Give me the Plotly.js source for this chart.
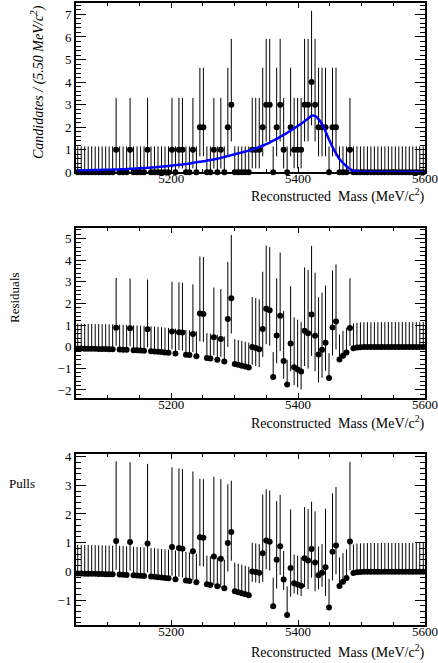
<!DOCTYPE html>
<html><head><meta charset="utf-8">
<script src="https://cdn.plot.ly/plotly-3.0.1.min.js"></script>
<style>html,body{margin:0;padding:0;background:#fff;} #chart{width:438px;height:663px;}</style>
</head><body><div id="chart"></div>
<script>
// Histogram binning (100 bins of 5.5 MeV from 5050 to 5600)
const binLow = 5050;
const binWidth = 5.5;
// Candidates per bin
const counts = [
  0,0,0,0,0,0,0,0,0,0,
  0,1,0,0,0,1,0,0,0,0,
  1,0,0,0,0,0,0,1,0,1,
  1,0,0,1,0,2,2,0,0,1,
  0,1,0,2,3,0,0,0,0,0,
  1,1,1,2,3,3,0,2,3,1,
  0,2,1,1,1,3,3,4,3,2,
  2,2,0,2,2,0,0,0,1,0,
  0,0,0,0,0,0,0,0,0,0,
  0,0,0,0,0,0,0,0,0,0
];
// Fitted model value at each bin centre (blue curve)
const model = [
  0.085,0.088,0.091,0.094,0.097,0.100,0.104,0.108,0.112,0.116,
  0.120,0.125,0.130,0.137,0.144,0.152,0.160,0.170,0.180,0.190,
  0.200,0.210,0.220,0.235,0.250,0.265,0.280,0.300,0.315,0.330,
  0.350,0.370,0.390,0.420,0.440,0.470,0.490,0.520,0.550,0.570,
  0.600,0.640,0.680,0.720,0.760,0.800,0.840,0.880,0.920,0.960,
  1.010,1.060,1.120,1.180,1.250,1.320,1.400,1.480,1.570,1.660,
  1.750,1.850,1.950,2.050,2.150,2.260,2.380,2.510,2.500,2.360,
  2.140,1.820,1.450,1.120,0.840,0.590,0.420,0.270,0.140,0.070,
  0.040,0.025,0.020,0.018,0.016,0.015,0.015,0.014,0.014,0.013,
  0.013,0.013,0.012,0.012,0.012,0.012,0.011,0.011,0.011,0.011
];
// Poisson (68%) asymmetric errors for n = 0..4
const poissonLo = [0, 0.8274, 1.2911, 1.6330, 1.9145];
const poissonHi = [1.1479, 2.2996, 2.6379, 2.9182, 3.1623];
const xTickVals = [5200, 5400, 5600];
const xTickText = ['5200', '5400', '5600'];

const xs = counts.map((_, i) => binLow + binWidth * (i + 0.5));
const eLo = counts.map(n => poissonLo[n]);
const eHi = counts.map(n => poissonHi[n]);
const resid = counts.map((n, i) => n - model[i]);
const pull = [], pullLo = [], pullHi = [];
counts.forEach((n, i) => {
  const r = n - model[i];
  const norm = r > 0 ? eLo[i] : eHi[i];
  pull.push(r / norm); pullLo.push(eLo[i] / norm); pullHi.push(eHi[i] / norm);
});

const FONT = 'Liberation Serif, Times New Roman, serif';
const W = 438, H = 663;
const px = v => v / W, py = v => 1 - v / H;
const xdom = [px(76), px(425)];

function xax(anchor) {
  return {
    domain: xdom, anchor: anchor, range: [5050, 5600],
    tickvals: xTickVals, ticktext: xTickText,
    ticks: 'inside', ticklen: 5, tickwidth: 1, tickcolor: '#000',
    ticklabelstandoff: -7,
    minor: {dtick: 50, tick0: 5000, ticks: 'inside', ticklen: 3, tickwidth: 1, tickcolor: '#000'},
    showline: true, linewidth: 2, linecolor: '#000', mirror: 'allticks',
    showgrid: false, zeroline: false,
    tickfont: {family: FONT, size: 13, color: '#000'}
  };
}
function yax(anchor, dom, range) {
  return {
    domain: dom, anchor: anchor, range: range,
    dtick: 1, tick0: 0,
    ticks: 'inside', ticklen: 10, tickwidth: 1, tickcolor: '#000',
    minor: {dtick: 0.2, tick0: 0, ticks: 'inside', ticklen: 5, tickwidth: 1, tickcolor: '#000'},
    showline: true, linewidth: 2, linecolor: '#000', mirror: 'allticks',
    showgrid: false, zeroline: false,
    tickfont: {family: FONT, size: 13, color: '#000'}
  };
}

const errStyle = {type: 'data', symmetric: false, width: 0, thickness: 1, color: '#000'};
const mk = {color: '#000', size: 6};

const traces = [
  {x: xs, y: counts, xaxis: 'x', yaxis: 'y', type: 'scatter', mode: 'markers', marker: mk, cliponaxis: false,
   error_y: Object.assign({array: eHi, arrayminus: eLo}, errStyle)},
  {x: xs, y: model, xaxis: 'x', yaxis: 'y', type: 'scatter', mode: 'lines',
   line: {color: '#0000ff', width: 2.5, shape: 'spline', smoothing: 0.6}},
  {x: xs, y: resid, xaxis: 'x2', yaxis: 'y2', type: 'scatter', mode: 'markers', marker: mk,
   error_y: Object.assign({array: eHi, arrayminus: eLo}, errStyle)},
  {x: xs, y: pull, xaxis: 'x3', yaxis: 'y3', type: 'scatter', mode: 'markers', marker: mk,
   error_y: Object.assign({array: pullHi, arrayminus: pullLo}, errStyle)}
];

const xTitle = 'Reconstructed\u00a0\u00a0Mass (MeV/c<sup>2</sup>)';
function titleAnn(yPix) {
  return {text: xTitle, xref: 'paper', yref: 'paper', x: px(427), y: py(yPix), xanchor: 'right', yanchor: 'middle',
          showarrow: false, font: {family: FONT, size: 14, color: '#000'}};
}

const layout = {
  width: W, height: H, margin: {l: 0, r: 0, t: 0, b: 0},
  paper_bgcolor: '#fff', plot_bgcolor: '#fff', showlegend: false,
  xaxis: xax('y'), yaxis: yax('x', [py(172.3), py(2.7)], [0, 7.52]),
  xaxis2: xax('y2'), yaxis2: yax('x2', [py(398), py(228)], [-2.37, 5.48]),
  xaxis3: xax('y3'), yaxis3: yax('x3', [py(625), py(454.3)], [-1.87, 4.08]),
  annotations: [
    {text: '<i>Candidates / (5.50 MeV/c<sup>2</sup>)</i>', textangle: -90, xref: 'paper', yref: 'paper',
     x: px(38), y: py(3), xanchor: 'center', yanchor: 'top', showarrow: false,
     font: {family: FONT, size: 14, color: '#000'}},
    titleAnn(195), titleAnn(422), titleAnn(651),
    {text: 'Residuals', textangle: -90, xref: 'paper', yref: 'paper', x: px(14), y: py(298),
     xanchor: 'center', yanchor: 'middle', showarrow: false, font: {family: FONT, size: 13, color: '#000'}},
    {text: 'Pulls', xref: 'paper', yref: 'paper', x: px(7), y: py(483),
     xanchor: 'left', yanchor: 'middle', showarrow: false, font: {family: FONT, size: 13, color: '#000'}}
  ]
};

Plotly.newPlot('chart', traces, layout, {displayModeBar: false, staticPlot: true});
</script>
</body></html>
